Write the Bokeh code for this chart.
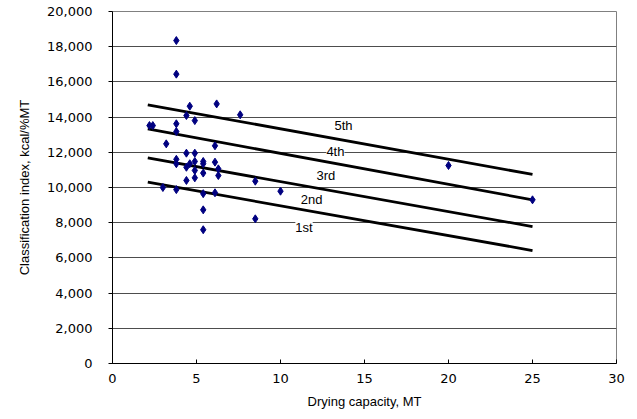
from bokeh.plotting import figure
from bokeh.models import Range1d, NumeralTickFormatter, FixedTicker, ColumnDataSource, LabelSet
from bokeh.core.properties import value
from bokeh.embed import file_html
from bokeh.resources import INLINE

# Scatter data: drying capacity (MT) vs classification index (kcal/%MT)
cap = [2.2, 2.4, 3.0, 3.2, 3.8, 3.8, 3.8, 3.8, 3.8, 3.8, 3.8,
       4.4, 4.6, 4.4, 4.4, 4.4, 4.6,
       4.9, 4.9, 4.9, 4.9, 4.9,
       5.4, 5.4, 5.4, 5.4, 5.4, 5.4,
       6.1, 6.1, 6.1, 6.2, 6.3, 6.3,
       7.6, 8.5, 8.5, 10.0, 20.0, 25.0]
idx = [13520, 13520, 10000, 12480, 18350, 16440, 13620, 13180, 11600, 11350, 9880,
       14090, 14620, 11950, 11150, 10400, 11350,
       13800, 11950, 11480, 10970, 10550,
       11480, 11350, 10820, 9650, 8730, 7600,
       12370, 11440, 9700, 14750, 11060, 10680,
       14130, 10360, 8220, 9790, 11250, 9300]

# Class boundary lines
line_x0 = 2.1
line_x1 = 25.0
line_y0 = [10300, 11680, 13330, 14700]
line_y1 = [6420, 7780, 9300, 10740]

# Class labels
class_names = ["1st", "2nd", "3rd", "4th", "5th"]
class_x = [11.4, 11.85, 12.7, 13.27, 13.75]
class_y = [7725, 9315, 10678, 12042, 13518]

x_ticks = [0, 5, 10, 15, 20, 25, 30]
y_ticks = list(range(0, 20001, 2000))

FONT = "Liberation Sans"
TICK_FONT = "DejaVu Sans"

p = figure(width=637, height=419, output_backend="svg", toolbar_location=None,
           x_range=Range1d(0, 30), y_range=Range1d(0, 20000),
           min_border_left=112, min_border_right=21, min_border_top=11, min_border_bottom=56)

p.outline_line_color = "#808080"
p.outline_line_width = 1
p.background_fill_color = "white"
p.border_fill_color = "white"

p.xgrid.grid_line_color = None
p.ygrid.grid_line_color = "#4d4d4d"
p.ygrid.grid_line_width = 1

p.xaxis.ticker = FixedTicker(ticks=x_ticks)
p.yaxis.ticker = FixedTicker(ticks=y_ticks)
p.yaxis.formatter = NumeralTickFormatter(format="0,0")
p.xaxis.minor_tick_line_color = None
p.yaxis.minor_tick_line_color = None

for ax in (p.xaxis[0], p.yaxis[0]):
    ax.axis_line_color = "black"
    ax.axis_line_width = 1
    ax.major_tick_line_color = "black"
    ax.major_label_text_font = TICK_FONT
    ax.major_label_text_font_size = "13px"
    ax.major_label_text_color = "black"
    ax.axis_label_text_font = FONT
    ax.axis_label_text_font_size = "13px"
    ax.axis_label_text_font_style = "normal"
    ax.axis_label_text_color = "black"

p.xaxis.major_tick_in = 4
p.xaxis.major_tick_out = 0
p.xaxis.major_label_standoff = 10
p.xaxis.axis_label = "Drying capacity, MT"
p.xaxis.axis_label_standoff = 8

p.yaxis.major_tick_in = 0
p.yaxis.major_tick_out = 4
p.yaxis.major_label_standoff = 16
p.yaxis.axis_label = "Classification index, kcal/%MT"
p.yaxis.axis_label_standoff = 12

# boundary lines
for y0, y1 in zip(line_y0, line_y1):
    p.line([line_x0, line_x1], [y0, y1], line_color="black", line_width=2.8)

# labels with white box
lab_src = ColumnDataSource(dict(x=class_x, y=class_y, t=class_names))
labels = LabelSet(x="x", y="y", text="t", source=lab_src, text_align="center",
                  text_baseline="middle", text_font=value(FONT), text_font_size="13px",
                  text_color="black", background_fill_color="white",
                  background_fill_alpha=1.0)
p.add_layout(labels)

p.scatter(cap, idx, marker="diamond", size=8, fill_color="#000080", line_color="#000080")

open("out.html", "w").write(file_html(p, INLINE))
